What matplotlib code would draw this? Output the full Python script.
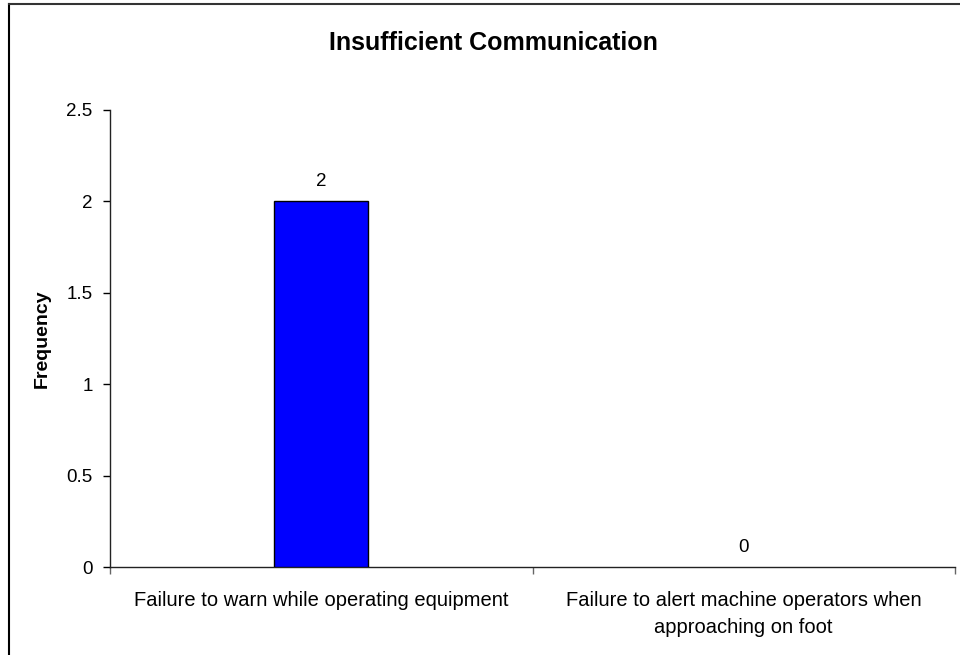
import matplotlib
matplotlib.use("Agg")
import matplotlib.pyplot as plt
from matplotlib.lines import Line2D

categories = ["Failure to warn while operating equipment",
              "Failure to alert machine operators when\napproaching on foot"]
values = [2, 0]
yticks = [0, 0.5, 1, 1.5, 2, 2.5]
ytick_labels = ["0", "0.5", "1", "1.5", "2", "2.5"]
title = "Insufficient Communication"
ylabel = "Frequency"

plt.rcParams['font.family'] = ['Liberation Sans', 'DejaVu Sans']

fig = plt.figure(figsize=(9.6, 6.55), dpi=100)
ax = fig.add_axes([110/960, 1-567/655, 845/960, 457/655])

x = list(range(len(categories)))
ax.bar(x, values, width=0.222, color="#0000FF", edgecolor="black",
       linewidth=[1 if v > 0 else 0 for v in values], zorder=3)
for xi, v in zip(x, values):
    ax.annotate(f"{v:g}", (xi, v), xytext=(0, 8), textcoords="offset points",
                ha="center", va="bottom", fontsize=13.5)

ax.set_xlim(-0.5, len(categories) - 0.5)
ax.set_ylim(0, 2.5)
ax.set_yticks(yticks)
ax.set_yticklabels(ytick_labels, fontsize=13.5)
ax.tick_params(axis="y", direction="out", length=5, width=1, pad=7.5)

ax.set_xticks([i - 0.5 for i in range(len(categories) + 1)])
ax.set_xticklabels([])
ax.set_xticks(x, minor=True)
ax.set_xticklabels(categories, minor=True, fontsize=14.5, linespacing=1.59)
ax.tick_params(axis="x", which="major", direction="out", length=5, width=1, color="#666666")
ax.tick_params(axis="x", which="minor", length=0, pad=17)

for s in ["top", "right"]:
    ax.spines[s].set_visible(False)
for s in ["left", "bottom"]:
    ax.spines[s].set_linewidth(1)
    ax.spines[s].set_color("#222222")

ax.set_ylabel(ylabel, fontsize=14, fontweight="bold", labelpad=11)
fig.text(493/960, 1 - 43/655, title, ha="center", va="center", fontsize=18, fontweight="bold")

# figure frame (left and top edges)
fig.add_artist(Line2D([8.5/960, 8.5/960], [0, 1 - 3.5/655], transform=fig.transFigure, color="black", linewidth=1.5))
fig.add_artist(Line2D([8.5/960, 1], [1 - 3.5/655, 1 - 3.5/655], transform=fig.transFigure, color="#333333", linewidth=1.5))

fig.savefig("out.png", dpi=100)
